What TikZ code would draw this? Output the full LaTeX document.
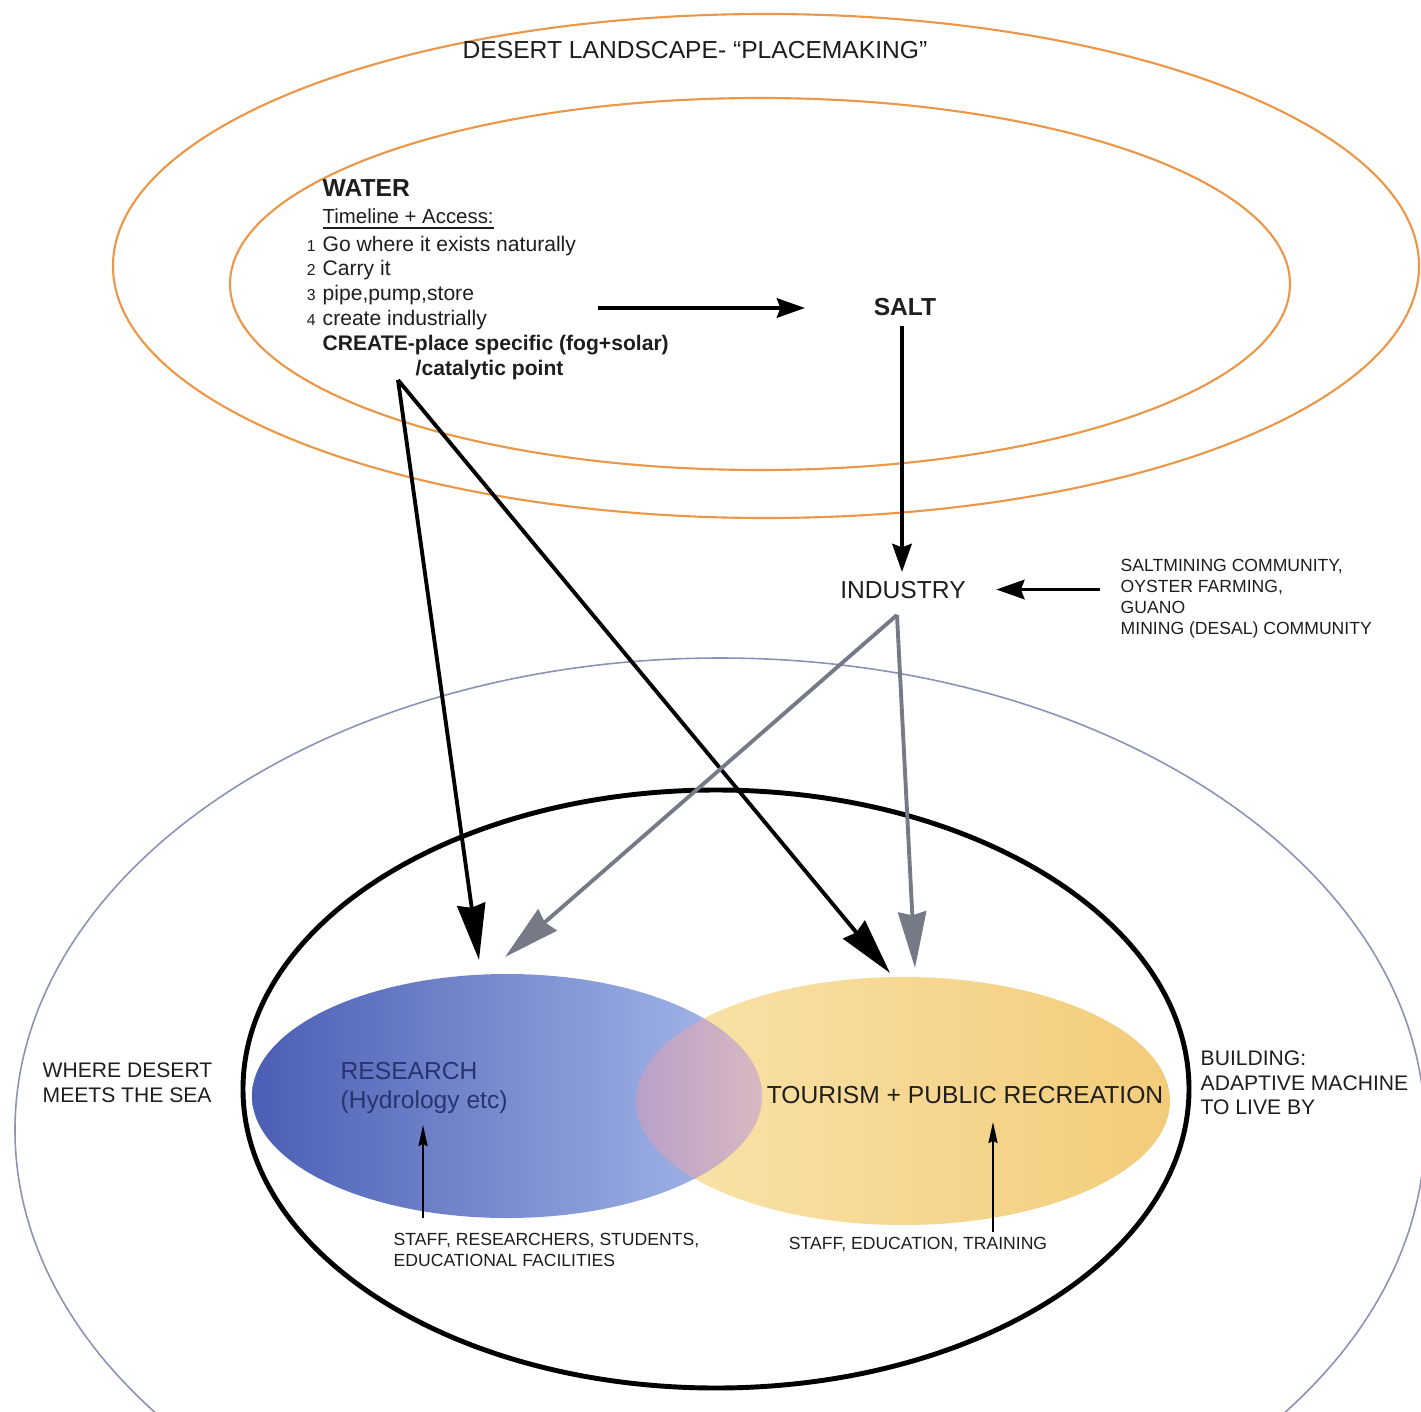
\documentclass[tikz,border=0pt]{standalone}
\usepackage{fontspec}
\setmainfont{Liberation Sans}
\usetikzlibrary{arrows.meta,positioning}
\definecolor{ringorange}{RGB}{236,150,72}
\definecolor{sealine}{RGB}{140,146,180}
\definecolor{arrowgrey}{RGB}{118,122,134}
\definecolor{resblue}{RGB}{76,94,180}
\definecolor{reslight}{RGB}{168,188,236}
\definecolor{tourlight}{RGB}{249,228,172}
\definecolor{tourdeep}{RGB}{243,204,122}
\definecolor{mixleft}{RGB}{184,160,202}
\definecolor{mixright}{RGB}{216,184,192}
\definecolor{restext}{RGB}{40,52,112}
\definecolor{inktext}{RGB}{30,30,30}
\newcommand\stepno[1]{\llap{\fontsize{4.5}{5}\selectfont#1\hspace{2pt}}}
\tikzset{
  ring/.style={draw=ringorange, line width=0.6pt},
  heavyarrow/.style={-{Stealth[length=16pt,width=8pt,inset=1pt]}, line width=1.1pt},
  greyarrow/.style={heavyarrow, draw=arrowgrey},
  shortarrow/.style={-{Stealth[length=8pt,width=5.5pt,inset=1pt]}, line width=1.1pt},
  thinarrow/.style={-{Stealth[length=6pt,width=2.6pt,inset=0.6pt]}, line width=0.45pt},
  bigtext/.style={font=\fontsize{7}{8.5}\selectfont, inner sep=0pt, text=inktext},
  headtext/.style={font=\bfseries\fontsize{7}{8.5}\selectfont, inner sep=0pt, text=inktext},
  midtext/.style={font=\fontsize{6}{7}\selectfont, inner sep=0pt, text=inktext},
  midbold/.style={font=\bfseries\fontsize{6}{7}\selectfont, inner sep=0pt, text=inktext},
  subtext/.style={font=\fontsize{5.8}{7}\selectfont, inner sep=0pt, text=inktext},
  smalltext/.style={font=\fontsize{5}{6}\selectfont, inner sep=0pt, text=inktext}
}

\begin{document}
\begin{tikzpicture}[x=0.01cm,y=-0.01cm]
  \clip (0,0) rectangle (1421,1412);
  \fill[white] (0,0) rectangle (1421,1412);
  % desert landscape rings
  \draw[ring] (766,266) ellipse [x radius=653, y radius=252];
  \draw[ring] (760,284) ellipse [x radius=530, y radius=186];
  % where desert meets the sea
  \draw[sealine, line width=0.45pt] (720,1130) ellipse [x radius=705, y radius=472];
  % research + tourism
  \shade[left color=tourlight, right color=tourdeep] (903,1101) ellipse [x radius=267, y radius=124];
  \shade[left color=resblue, right color=reslight] (507,1096) ellipse [x radius=255, y radius=122];
  \begin{scope}
    \clip (903,1101) ellipse [x radius=267, y radius=124];
    \clip (507,1096) ellipse [x radius=255, y radius=122];
    \shade[left color=mixleft, right color=mixright] (636,975) rectangle (762,1225);
  \end{scope}
  \draw[line width=1.4pt] (716,1089) ellipse [x radius=473, y radius=299];

  \node[bigtext, anchor=base] (landscape) at (695,58) {DESERT LANDSCAPE- “PLACEMAKING”};

  \node[headtext, anchor=base west] (water) at (322,196) {WATER};
  \node[subtext, anchor=base west] (timeline) at (322,223) {\underline{Timeline + Access:}};
  \node[midtext, anchor=base west] (natural) at (322,251) {\stepno{1}Go where it exists naturally};
  \node[midtext, anchor=base west] (carry) at (322,275) {\stepno{2}Carry it};
  \node[midtext, anchor=base west] (pipe) at (322,300) {\stepno{3}pipe,pump,store};
  \node[midtext, anchor=base west] (industrial) at (322,325) {\stepno{4}create industrially};
  \node[midbold, anchor=base west] (create) at (322,350) {CREATE-place specific (fog+solar)};
  \node[midbold, anchor=base west] (catalytic) at (415,375) {/catalytic point};

  \node[headtext, anchor=base] (salt) at (905,315) {SALT};
  \node[bigtext, anchor=base] (industry) at (903,598) {INDUSTRY};
  \node[smalltext, anchor=west, align=left] (community) at (1120,599)
    {SALTMINING COMMUNITY,\\OYSTER FARMING,\\GUANO\\MINING (DESAL) COMMUNITY};

  \node[bigtext, text=restext, anchor=west, align=left] (research) at (340,1088) {RESEARCH\\(Hydrology etc)};
  \node[bigtext, anchor=center] (tourism) at (965,1095) {TOURISM + PUBLIC RECREATION};
  \node[midtext, anchor=west, align=left] (seaedge) at (42,1083) {WHERE DESERT\\MEETS THE SEA};
  \node[midtext, anchor=west, align=left] (building) at (1200,1083) {BUILDING:\\ADAPTIVE MACHINE\\TO LIVE BY};
  \node[smalltext, anchor=west, align=left] (resstaff) at (393,1250) {STAFF, RESEARCHERS, STUDENTS,\\EDUCATIONAL FACILITIES};
  \node[smalltext, anchor=center] (tourstaff) at (918,1244) {STAFF, EDUCATION, TRAINING};

  % arrow ends
  \coordinate (pipeout) at (598,308);
  \coordinate (saltin) at (805,308);
  \coordinate (catapex) at (398,380);
  \coordinate (resin) at (479,960);
  \coordinate (tourin) at (890,973);
  \coordinate (indfoot) at (897,615);
  \coordinate (resgrey) at (505,957);
  \coordinate (tourgrey) at (915,968);
  \coordinate (resfoot) at (423,1218);
  \coordinate (reshead) at (423,1125);
  \coordinate (tourfoot) at (993,1232);
  \coordinate (tourhead) at (993,1122);

  \draw[shortarrow] (pipeout) -- (saltin);
  \draw[shortarrow, shorten <=2.8pt, shorten >=2.3pt] (salt.south -| 902,0) -- (industry.north -| 902,0);
  \draw[shortarrow, shorten <=5.7pt, shorten >=8.5pt] (community.west |- industry) -- (industry.east);
  \draw[heavyarrow] (catapex) -- (resin);
  \draw[heavyarrow] (catapex) -- (tourin);
  \draw[greyarrow] (indfoot) -- (resgrey);
  \draw[greyarrow] (indfoot) -- (tourgrey);
  \draw[thinarrow] (resfoot) -- (reshead);
  \draw[thinarrow] (tourfoot) -- (tourhead);
\end{tikzpicture}
\end{document}
